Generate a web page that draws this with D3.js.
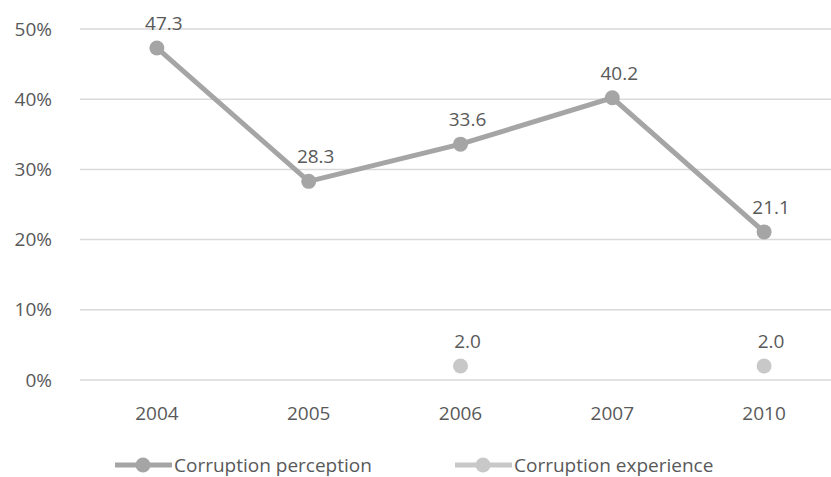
<!DOCTYPE html>
<html>
    <head>
        <script src="https://d3js.org/d3.v7.min.js"></script>
        <style>
            body { margin: 0; background: #fff; }
            text { font-family: "Open Sans", sans-serif; fill: #595959; }
        </style>
    </head>
    <body>
        <svg width="831" height="477"></svg>
        <script>
            const years = ['2004', '2005', '2006', '2007', '2010'];
            const perception = [47.3, 28.3, 33.6, 40.2, 21.1];
            const experience = [null, null, 2.0, null, 2.0];
            const yTicks = [0, 10, 20, 30, 40, 50];
            const seriesNames = ['Corruption perception', 'Corruption experience'];
            const seriesColors = ['#a5a5a5', '#c8c8c8'];

            const svg = d3.select('svg');
            const fontSize = '19px';

            let xScale = d3.scaleBand()
                    .domain(years)
                    .range([81, 840]);

            let yScale = d3.scaleLinear()
                    .domain([0, 50])
                    .range([380, 29]);

            // gridlines
            svg.append('g')
                .selectAll('line')
                .data(yTicks)
                .enter().append('line')
                .attr('x1', 80)
                .attr('x2', 831)
                .attr('y1', d => yScale(d))
                .attr('y2', d => yScale(d))
                .style('stroke', '#d9d9d9')
                .style('stroke-width', 1.5);

            // y axis labels
            let yAxis = d3.axisLeft(yScale)
                    .tickValues(yTicks)
                    .tickFormat(d => d + '%')
                    .tickSize(0)
                    .tickPadding(0);
            let gy = svg.append('g')
                .attr('transform', 'translate(52,0)')
                .call(yAxis);
            gy.select('.domain').remove();
            gy.selectAll('text').style('font-size', fontSize).style('font-family', '"Open Sans", sans-serif').attr('fill', '#595959');

            // x axis labels
            let xAxis = d3.axisBottom(xScale).tickSize(0).tickPadding(0);
            let gx = svg.append('g')
                .attr('transform', 'translate(0,406)')
                .call(xAxis);
            gx.select('.domain').remove();
            gx.selectAll('text').style('font-size', fontSize).style('font-family', '"Open Sans", sans-serif').attr('fill', '#595959');

            const cx = (d, i) => xScale(years[i]) + xScale.bandwidth() / 2;

            // perception line
            let line = d3.line()
                .defined(d => d != null)
                .x((d, i) => cx(d, i))
                .y(d => yScale(d));

            svg.append('path')
                .datum(perception)
                .attr('d', line)
                .style('fill', 'none')
                .style('stroke', seriesColors[0])
                .style('stroke-width', 5);

            [perception, experience].forEach((series, s) => {
                let pts = series.map((v, i) => ({ v: v, i: i })).filter(d => d.v != null);
                svg.append('g')
                    .selectAll('circle')
                    .data(pts)
                    .enter().append('circle')
                    .attr('cx', d => cx(d.v, d.i))
                    .attr('cy', d => yScale(d.v))
                    .attr('r', 7.5)
                    .style('fill', seriesColors[s]);
                svg.append('g')
                    .selectAll('text')
                    .data(pts)
                    .enter().append('text')
                    .attr('x', d => cx(d.v, d.i) + 7)
                    .attr('y', d => yScale(d.v) - 18)
                    .style('text-anchor', 'middle')
                    .style('font-size', fontSize)
                    .text(d => d.v.toFixed(1));
            });

            // legend
            const legendX = [115, 455];
            seriesNames.forEach((name, s) => {
                let lg = svg.append('g').attr('transform', 'translate(' + legendX[s] + ',465)');
                lg.append('line')
                    .attr('x1', 0).attr('x2', 57)
                    .attr('y1', 0).attr('y2', 0)
                    .style('stroke', seriesColors[s])
                    .style('stroke-width', 5);
                lg.append('circle')
                    .attr('cx', 28).attr('cy', 0).attr('r', 7.5)
                    .style('fill', seriesColors[s]);
                lg.append('text')
                    .attr('x', 59)
                    .attr('y', 7)
                    .style('font-size', fontSize)
                    .text(name);
            });
        </script>
    </body>
</html>
